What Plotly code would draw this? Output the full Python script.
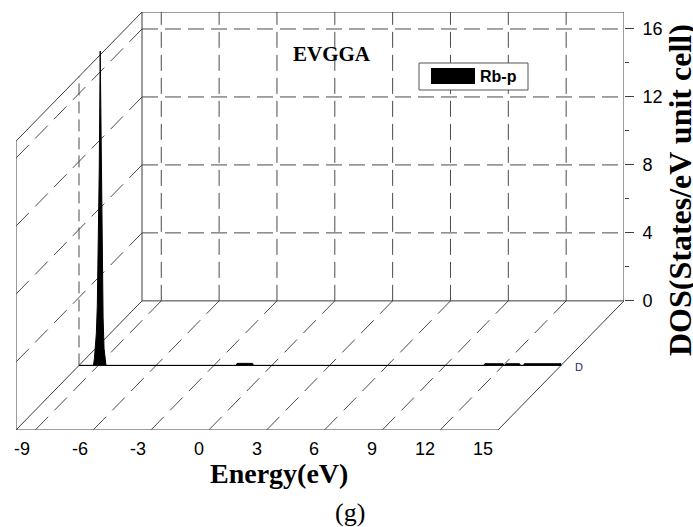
import plotly.graph_objects as go

# ---- data: Rb-p partial DOS (EVGGA) ----
energy = [-10.0, -9.25, -9.2, -9.15, -9.1, -9.05, -9.0, -8.95, -8.9, -8.85, -8.8,
          -8.75, -8.7, -8.65, -8.6, -1.85, -1.8, -1.0, -0.95, 11.0, 11.05, 12.0,
          12.05, 12.1, 12.15, 12.85, 12.9, 13.05, 13.1, 15.0]
dos_rb_p = [0.0, 0.0, 0.4, 1.0, 1.9, 3.5, 6.5, 11.5, 18.5, 12.0, 6.0,
            2.8, 1.0, 0.3, 0.0, 0.0, 0.12, 0.12, 0.0, 0.0, 0.1, 0.1,
            0.0, 0.0, 0.1, 0.1, 0.0, 0.0, 0.1, 0.1]

x_ticks = [-9, -6, -3, 0, 3, 6, 9, 12, 15]
x_minor = [-7.5, -4.5, -1.5, 1.5, 4.5, 7.5, 10.5, 13.5]
y_ticks = [0, 4, 8, 12, 16]
y_minor = [2, 6, 10, 14]
x_grid = [-9, -6, -3, 0, 3, 6, 9, 12]
y_grid = [4, 8, 12, 16]

E_MIN, E_MAX = -10.0, 15.0
V_MAX = 17.0
SERIES_DEPTH = 0.5

# oblique projection: one unit of depth moves a point down-left
DX = -6.535   # energy units per depth unit
DY = -7.60    # DOS units per depth unit


def proj(e, v, d):
    return e + d * DX, v + d * DY


def segs(pairs):
    xs, ys = [], []
    for a, b in pairs:
        x0, y0 = proj(*a)
        x1, y1 = proj(*b)
        xs += [x0, x1, None]
        ys += [y0, y1, None]
    return xs, ys


fig = go.Figure()

def add_lines(pairs, color, dash="solid", width=1):
    xs, ys = segs(pairs)
    fig.add_trace(go.Scatter(x=xs, y=ys, mode="lines", hoverinfo="skip",
                             line=dict(color=color, width=width, dash=dash),
                             showlegend=False))

GRID = "#4a4a4a"
EDGE = "#3c3c3c"

# back wall grid
add_lines([((E_MIN, v, 0), (E_MAX, v, 0)) for v in y_grid], GRID, "16px,7px")
add_lines([((e, 0, 0), (e, V_MAX, 0)) for e in x_grid], GRID, "16px,7px")
# floor grid
add_lines([((e, 0, 0), (e, 0, 1)) for e in x_grid], GRID, "18px,9px")
# left wall grid
add_lines([((E_MIN, v, 0), (E_MIN, v, 1)) for v in y_grid], GRID, "18px,9px")
add_lines([((E_MIN, 0, SERIES_DEPTH), (E_MIN, V_MAX, SERIES_DEPTH))], GRID, "12px,6px")

# frame edges
add_lines([
    ((E_MIN, 0, 0), (E_MAX, 0, 0)),
    ((E_MAX, 0, 0), (E_MAX, V_MAX, 0)),
    ((E_MAX, V_MAX, 0), (E_MIN, V_MAX, 0)),
    ((E_MIN, V_MAX, 0), (E_MIN, 0, 0)),
    ((E_MIN, 0, 0), (E_MIN, 0, 1)),
    ((E_MAX, 0, 0), (E_MAX, 0, 1)),
    ((E_MIN, 0, 1), (E_MAX, 0, 1)),
    ((E_MIN, V_MAX, 0), (E_MIN, V_MAX, 1)),
    ((E_MIN, 0, 1), (E_MIN, V_MAX, 1)),
], EDGE)

# front axis ticks (pointing out along depth)
add_lines([((e, 0, 1), (e, 0, 1.045)) for e in x_ticks]
          + [((e, 0, 1), (e, 0, 1.025)) for e in x_minor], EDGE)

# Rb-p ribbon at its depth slot, filled down to zero
sx, sy = [], []
for e, v in zip(energy, dos_rb_p):
    px, py = proj(e, v, SERIES_DEPTH)
    sx.append(px)
    sy.append(py)
bx0, by0 = proj(energy[-1], 0, SERIES_DEPTH)
bx1, by1 = proj(energy[0], 0, SERIES_DEPTH)
sx += [bx0, bx1]
sy += [by0, by1]
fig.add_trace(go.Scatter(x=sx, y=sy, mode="lines", fill="toself",
                         fillcolor="black", line=dict(color="black", width=1),
                         name="Rb-p", showlegend=False))

# ---- layout geometry (pixels) ----
W, H = 693, 527
L, R, T, B = 16, 624, 12, 430


def pxx(p):
    return (p - L) / (R - L)


def pxy(p):
    return (B - p) / (B - T)


annotations = []
# energy tick labels on the front edge
for e in x_ticks:
    x, y = proj(e, 0, 1)
    annotations.append(dict(x=x, y=y, xref="x", yref="y", text=str(e),
                            showarrow=False, xanchor="right", yanchor="middle",
                            xshift=-3, yshift=-19,
                            font=dict(family="Liberation Sans", size=18, color="black")))
# depth label of the series
x, y = proj(E_MAX, 0, SERIES_DEPTH)
annotations.append(dict(x=x, y=y, xref="x", yref="y", text="D", showarrow=False,
                        xanchor="left", yanchor="middle", xshift=12, yshift=-2,
                        font=dict(family="Liberation Sans", size=11, color="#2b2b5e")))
annotations += [
    dict(x=pxx(279), y=pxy(474), xref="paper", yref="paper", text="<b>Energy(eV)</b>",
         showarrow=False, xanchor="center", yanchor="middle",
         font=dict(family="Liberation Serif", size=28, color="black")),
    dict(x=pxx(680), y=pxy(190), xref="paper", yref="paper",
         text="<b>DOS(States/eV unit cell)</b>", textangle=-90,
         showarrow=False, xanchor="center", yanchor="middle",
         font=dict(family="Liberation Serif", size=32, color="black")),
    dict(x=pxx(332), y=pxy(54), xref="paper", yref="paper", text="<b>EVGGA</b>",
         showarrow=False, xanchor="center", yanchor="middle",
         font=dict(family="Liberation Serif", size=21, color="black")),
    dict(x=pxx(350), y=pxy(512), xref="paper", yref="paper", text="(g)",
         showarrow=False, xanchor="center", yanchor="middle",
         font=dict(family="Liberation Serif", size=26, color="black")),
    dict(x=pxx(478), y=pxy(76), xref="paper", yref="paper", text="<b>Rb-p</b>",
         showarrow=False, xanchor="left", yanchor="middle",
         font=dict(family="Liberation Sans", size=16, color="black")),
]

shapes = [
    dict(type="rect", xref="paper", yref="paper", x0=pxx(419), x1=pxx(528),
         y0=pxy(90), y1=pxy(63), fillcolor="white", line=dict(color="#555555", width=1),
         layer="above"),
    dict(type="rect", xref="paper", yref="paper", x0=pxx(431), x1=pxx(475),
         y0=pxy(84), y1=pxy(68), fillcolor="black", line=dict(color="black", width=0),
         layer="above"),
]

fig.update_layout(
    width=W, height=H,
    margin=dict(l=L, r=W - R, t=T, b=H - B, pad=0),
    paper_bgcolor="white", plot_bgcolor="white",
    showlegend=False,
    xaxis=dict(range=[E_MIN + DX, E_MAX], visible=False, fixedrange=True),
    yaxis=dict(range=[DY, V_MAX], side="right", showgrid=False, zeroline=False,
               showline=False, tickmode="array", tickvals=y_ticks,
               ticks="outside", ticklen=9, tickwidth=1, tickcolor=EDGE,
               ticklabelstandoff=5,
               tickfont=dict(family="Liberation Sans", size=18, color="black"),
               minor=dict(tickvals=y_minor, ticks="outside", ticklen=4,
                          tickcolor=EDGE, tickwidth=1),
               fixedrange=True),
    annotations=annotations,
    shapes=shapes,
)

fig.write_html("out.html")
